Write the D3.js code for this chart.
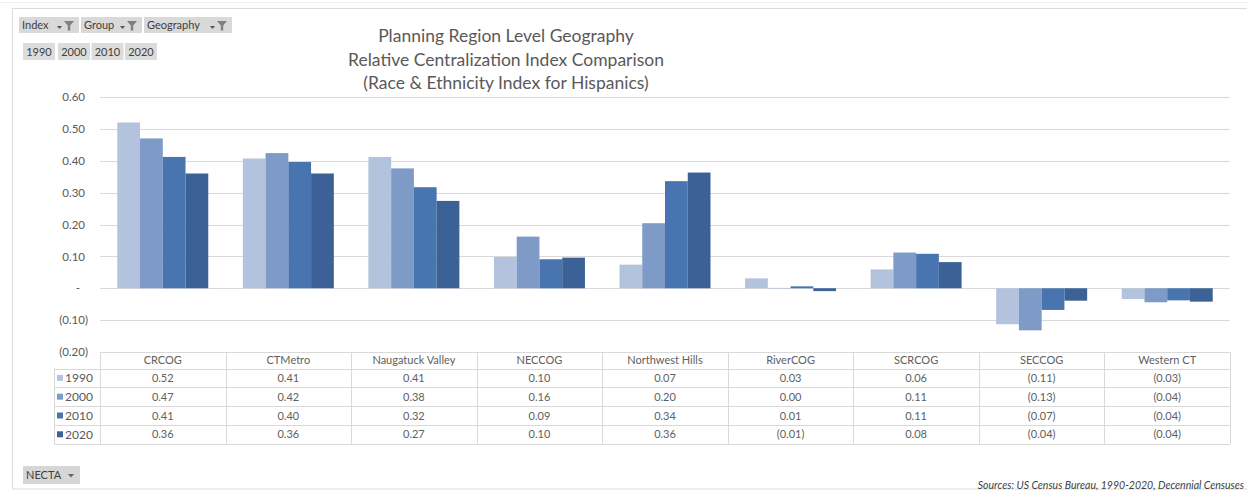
<!DOCTYPE html>
<html>
<head>
<meta charset="utf-8">
<script src="https://cdn.jsdelivr.net/npm/d3@7"></script>
<style>
  html, body { margin: 0; padding: 0; background: #fff; }
  svg { display: block; font-family: Lato, "Open Sans", sans-serif; }
</style>
</head>
<body>
<svg id="chart" width="1247" height="496"></svg>
<script>
// ---- data ----
const categories = ["CRCOG", "CTMetro", "Naugatuck Valley", "NECCOG", "Northwest Hills", "RiverCOG", "SCRCOG", "SECCOG", "Western CT"];
const years = ["1990", "2000", "2010", "2020"];
const v1990 = [0.520, 0.407, 0.412, 0.098, 0.074, 0.031, 0.059, -0.113, -0.034];
const v2000 = [0.470, 0.424, 0.376, 0.162, 0.204, 0.001, 0.112, -0.132, -0.044];
const v2010 = [0.412, 0.396, 0.317, 0.091, 0.336, 0.006, 0.108, -0.068, -0.038];
const v2020 = [0.360, 0.360, 0.274, 0.096, 0.363, -0.009, 0.082, -0.039, -0.042];
const yTicks = [-0.2, -0.1, 0, 0.1, 0.2, 0.3, 0.4, 0.5, 0.6];
const titleLines = ["Planning Region Level Geography", "Relative Centralization Index Comparison", "(Race & Ethnicity Index for Hispanics)"];
const filterButtons = ["Index", "Group", "Geography"];
const sourceText = "Sources: US Census Bureau, 1990-2020, Decennial Censuses";

const seriesValues = [v1990, v2000, v2010, v2020];
const colors = ["#b3c2dd", "#7e9ac7", "#4875b0", "#3b6196"];
const textCol = "#595959";
const tableText = "#606060";
const gridCol = "#d9d9d9";

const svg = d3.select("#chart");

// outer frame
svg.append("rect").attr("x", 12.5).attr("y", 8.5).attr("width", 1250).attr("height", 480.5)
  .attr("fill", "none").attr("stroke", "#dcdcdc");
svg.append("line").attr("x1", 0).attr("x2", 1247).attr("y1", 2.5).attr("y2", 2.5).attr("stroke", "#efefef");

// scales
const x0 = d3.scaleBand().domain(categories).range([100, 1230]).padding(0);
const x1 = d3.scaleBand().domain(years).range([0, x0.bandwidth()]).paddingInner(0).paddingOuter(0.76);
const y = d3.scaleLinear().domain([-0.2, 0.6]).range([352, 97]);

// gridlines
svg.append("g").selectAll("line").data(yTicks.filter(t => t > -0.2)).join("line")
  .attr("x1", 100).attr("x2", 1230)
  .attr("y1", d => Math.round(y(d)) + 0.5).attr("y2", d => Math.round(y(d)) + 0.5)
  .attr("stroke", gridCol).attr("stroke-width", 1);

// y axis labels (accounting format)
function acct(v) {
  if (Math.abs(v) < 1e-9) return "-";
  const s = Math.abs(v).toFixed(2);
  return v < 0 ? "(" + s + ")" : s;
}
const yAxis = d3.axisLeft(y).tickValues(yTicks).tickSize(0).tickFormat(acct);
const yg = svg.append("g").attr("transform", "translate(100,0)").call(yAxis);
yg.select(".domain").remove();
yg.selectAll("text")
  .attr("fill", textCol).style("font-size", "11.5px").style("font-family", "Lato, 'Open Sans', sans-serif")
  .attr("x", d => d < 0 ? -12 : (Math.abs(d) < 1e-9 ? -20 : -15))
  .attr("text-anchor", "end");

// bars
const groups = svg.append("g").selectAll("g").data(categories).join("g")
  .attr("transform", c => `translate(${x0(c)},0)`);
groups.selectAll("rect").data((c, i) => years.map((yr, k) => ({ yr, k, v: seriesValues[k][i] }))).join("rect")
  .attr("x", d => x1(d.yr))
  .attr("width", x1.bandwidth())
  .attr("y", d => Math.min(y(d.v), y(0)))
  .attr("height", d => Math.abs(y(d.v) - y(0)))
  .attr("fill", d => colors[d.k]);

// data table
const headerTop = 352, headerH = 16.5, rowH = 18.8;
const tableBottom = headerTop + headerH + rowH * years.length;
const tbl = svg.append("g");
tbl.append("line").attr("x1", 100).attr("x2", 1230).attr("y1", headerTop + 0.5).attr("y2", headerTop + 0.5).attr("stroke", gridCol);
for (let r = 0; r <= years.length; r++) {
  const yy = Math.round(headerTop + headerH + r * rowH) + 0.5;
  tbl.append("line").attr("x1", 54).attr("x2", 1230).attr("y1", yy).attr("y2", yy).attr("stroke", gridCol);
}
tbl.append("line").attr("x1", 54.5).attr("x2", 54.5).attr("y1", headerTop + headerH).attr("y2", tableBottom).attr("stroke", gridCol);
categories.forEach(c => {
  const xx = Math.round(x0(c)) + 0.5;
  tbl.append("line").attr("x1", xx).attr("x2", xx).attr("y1", headerTop).attr("y2", tableBottom).attr("stroke", gridCol);
});
tbl.append("line").attr("x1", 1230.5).attr("x2", 1230.5).attr("y1", headerTop).attr("y2", tableBottom).attr("stroke", gridCol);
tbl.selectAll("text.hdr").data(categories).join("text").attr("class", "hdr")
  .attr("x", c => x0(c) + x0.bandwidth() / 2).attr("y", headerTop + headerH / 2 + 4)
  .attr("text-anchor", "middle").attr("fill", tableText).style("font-size", "11px").text(c => c);
years.forEach((yr, k) => {
  const cy = headerTop + headerH + k * rowH + rowH / 2;
  tbl.append("rect").attr("x", 57).attr("y", cy - 3).attr("width", 6).attr("height", 6).attr("fill", colors[k]);
  tbl.append("text").attr("x", 65).attr("y", cy + 4.5).attr("fill", textCol).style("font-size", "12px").text(yr);
  tbl.selectAll("text.v" + k).data(categories).join("text").attr("class", "v" + k)
    .attr("x", c => x0(c) + x0.bandwidth() / 2).attr("y", cy + 4)
    .attr("text-anchor", "middle").attr("fill", tableText).style("font-size", "11px")
    .text((c, i) => acct(seriesValues[k][i]).replace(/^-$/, "0.00"));
});

// title
svg.append("g").selectAll("text").data(titleLines).join("text")
  .attr("x", 506).attr("y", (d, i) => 42 + i * 23.5)
  .attr("text-anchor", "middle").attr("fill", textCol).style("font-size", "17.5px").text(d => d);

// filter buttons
const btnG = svg.append("g");
const btnX = [19, 81, 144];
const btnW = [60, 61, 88];
filterButtons.forEach((b, i) => {
  const g = btnG.append("g").attr("transform", `translate(${btnX[i]},17)`);
  g.append("rect").attr("width", btnW[i]).attr("height", 16).attr("fill", "#d9d9d9");
  g.append("text").attr("x", 3).attr("y", 12).attr("fill", "#404040").style("font-size", "11px").text(b);
  const w = btnW[i];
  g.append("path").attr("d", `M${w - 22},9 l5,0 l-2.5,3 z`).attr("fill", "#555");
  g.append("path").attr("d", `M${w - 15},4 l10,0 l-3.8,4.5 l0,5 l-2.4,0 l0,-5 z`).attr("fill", "#7f7f7f");
});
const yrBtnX = [23, 58, 91.5, 125];
years.forEach((yr, i) => {
  const g = btnG.append("g").attr("transform", `translate(${yrBtnX[i]},43)`);
  g.append("rect").attr("width", 32).attr("height", 17).attr("fill", "#dcdcdc");
  g.append("text").attr("x", 16).attr("y", 12.5).attr("text-anchor", "middle").attr("fill", "#404040").style("font-size", "11px").text(yr);
});
const ng = btnG.append("g").attr("transform", "translate(23,466)");
ng.append("rect").attr("width", 57).attr("height", 18).attr("fill", "#d6d6d6");
ng.append("text").attr("x", 3).attr("y", 13).attr("fill", "#404040").style("font-size", "11px").text("NECTA");
ng.append("path").attr("d", "M45,8 l6,0 l-3,3.5 z").attr("fill", "#666");

// sources
svg.append("text").attr("x", 1244).attr("y", 489).attr("text-anchor", "end")
  .attr("fill", "#404040").style("font-size", "10.5px").style("font-style", "italic").text(sourceText);
</script>
</body>
</html>
